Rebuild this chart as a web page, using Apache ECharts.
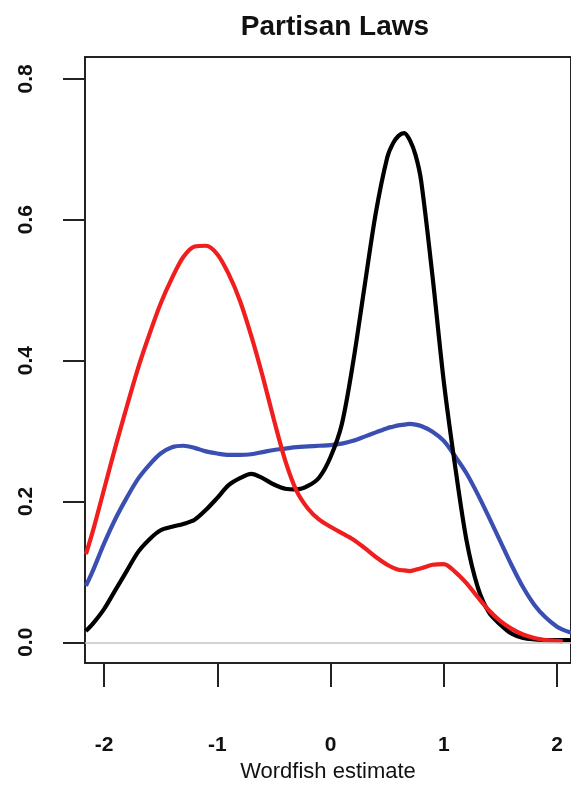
<!DOCTYPE html>
<html>
<head>
<meta charset="utf-8">
<script src="https://cdn.jsdelivr.net/npm/echarts@6/dist/echarts.min.js"></script>
<style>html,body{margin:0;padding:0;background:#fff}#c{width:571px;height:788px}</style>
</head>
<body>
<div id="c"></div>
<script>
var chartTitle = "Partisan Laws";
var xAxisTitle = "Wordfish estimate";
var xTicks = [-2, -1, 0, 1, 2];
var yTicks = [0, 0.2, 0.4, 0.6, 0.8];
var xs = [-2.16, -2.1, -2.0, -1.9, -1.8, -1.7, -1.6, -1.5, -1.4, -1.3, -1.2, -1.1, -1.0, -0.9, -0.8, -0.7, -0.6, -0.5, -0.4, -0.3, -0.2, -0.1, 0, 0.1, 0.2, 0.3, 0.4, 0.5, 0.55, 0.6, 0.65, 0.7, 0.75, 0.8, 0.9, 1.0, 1.1, 1.2, 1.3, 1.4, 1.5, 1.6, 1.7, 1.8, 1.9, 2.0, 2.05, 2.1, 2.2];
var redDensity = [0.125, 0.157, 0.217, 0.277, 0.334, 0.389, 0.437, 0.481, 0.517, 0.547, 0.562, 0.563, 0.551, 0.523, 0.485, 0.435, 0.378, 0.316, 0.258, 0.215, 0.19, 0.174, 0.164, 0.155, 0.146, 0.134, 0.121, 0.11, 0.106, 0.103, 0.102, 0.101, 0.103, 0.105, 0.11, 0.111, 0.1, 0.084, 0.064, 0.045, 0.03, 0.019, 0.011, 0.006, 0.003, 0.002, 0.001, null, null];
var blueDensity = [0.08, 0.101, 0.14, 0.175, 0.205, 0.232, 0.252, 0.268, 0.277, 0.279, 0.276, 0.271, 0.268, 0.266, 0.266, 0.267, 0.27, 0.273, 0.275, 0.277, 0.278, 0.279, 0.28, 0.282, 0.286, 0.292, 0.298, 0.304, 0.306, 0.308, 0.309, 0.31, 0.309, 0.307, 0.299, 0.286, 0.264, 0.24, 0.21, 0.177, 0.143, 0.109, 0.078, 0.053, 0.035, 0.022, 0.018, 0.015, 0.011];
var blackDensity = [0.016, 0.026, 0.047, 0.074, 0.101, 0.128, 0.146, 0.159, 0.164, 0.168, 0.174, 0.188, 0.205, 0.223, 0.233, 0.239, 0.233, 0.224, 0.218, 0.217, 0.222, 0.234, 0.263, 0.31, 0.398, 0.505, 0.61, 0.688, 0.708, 0.719, 0.723, 0.713, 0.692, 0.655, 0.52, 0.37, 0.25, 0.145, 0.078, 0.042, 0.025, 0.012, 0.006, 0.004, 0.003, 0.003, 0.003, 0.003, 0.003];

function pairs(ys) {
  var out = [];
  for (var i = 0; i < xs.length; i++) { if (ys[i] !== null) out.push([xs[i], ys[i]]); }
  return out;
}

var chart = echarts.init(document.getElementById('c'), null, {renderer: 'canvas'});
var FONT = '"Liberation Sans", Arial, Helvetica, sans-serif';
function lineSeries(name, ys, color, z) {
  return {
    name: name, type: 'line', data: pairs(ys), smooth: 0.3, showSymbol: false, symbol: 'none',
    lineStyle: {color: color, width: 4.2}, z: z, animation: false
  };
}
chart.setOption({
  animation: false,
  backgroundColor: '#fff',
  grid: {left: 85, top: 57, right: 0, bottom: 119, show: true, borderColor: '#222', borderWidth: 2, backgroundColor: 'transparent'},
  title: {
    text: chartTitle, left: 330, top: 8, textAlign: 'center',
    textStyle: {fontFamily: FONT, fontWeight: 'bold', fontSize: 28, color: '#111'}
  },
  xAxis: {
    type: 'value', min: -2.168, max: 2.123,
    name: xAxisTitle, nameLocation: 'middle', nameGap: 96,
    nameTextStyle: {fontFamily: FONT, fontSize: 22, color: '#111'},
    axisLine: {show: false, onZero: false},
    splitLine: {show: false},
    axisTick: {show: true, inside: false, length: 24, customValues: xTicks, lineStyle: {color: '#222', width: 2}},
    axisLabel: {show: true, customValues: xTicks, margin: 72, fontFamily: FONT, fontSize: 21, fontWeight: 'bold', color: '#111'}
  },
  yAxis: {
    type: 'value', min: -0.0296, max: 0.831,
    axisLine: {show: false, onZero: false},
    splitLine: {show: false},
    axisTick: {show: true, inside: false, length: 22, customValues: yTicks, lineStyle: {color: '#222', width: 2}},
    axisLabel: {show: true, customValues: yTicks, rotate: 90, margin: 48, fontFamily: FONT, fontSize: 21, fontWeight: 'bold', color: '#111',
      formatter: function (v) { return v.toFixed(1); }}
  },
  series: [
    {type: 'line', data: [], z: 1, markLine: {silent: true, symbol: 'none', label: {show: false}, animation: false,
      lineStyle: {color: '#c4c4c4', width: 1.5, type: 'solid'}, data: [{yAxis: 0}]}},
    lineSeries('blue', blueDensity, '#3b4fb3', 2),
    lineSeries('black', blackDensity, '#000000', 3),
    lineSeries('red', redDensity, '#f01e1e', 4)
  ]
});
</script>
</body>
</html>
